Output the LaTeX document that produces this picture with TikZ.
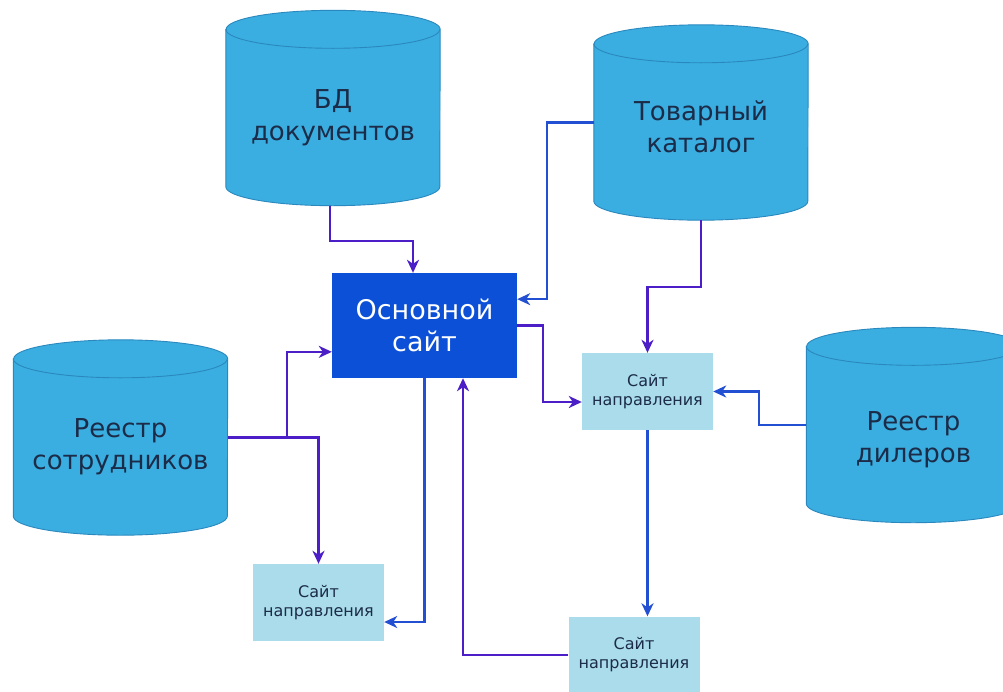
\documentclass[tikz,border=0pt]{standalone}
\usepackage{fontspec}
\setmainfont{DejaVu Sans}
\usetikzlibrary{arrows.meta,calc}

\definecolor{DbBlue}{HTML}{3AAEE0}
\definecolor{DbEdge}{HTML}{2A88BE}
\definecolor{SiteBlue}{HTML}{0C50D8}
\definecolor{DirBlue}{HTML}{AADCEB}
\definecolor{Ink}{HTML}{1B2B48}
\definecolor{LinkPurple}{HTML}{4B1EC8}
\definecolor{LinkBlue}{HTML}{2350D2}

% cylinder drawn round an empty node (rx = 107, ry = 19)
\newcommand{\dbcyl}[1]{%
  \filldraw[DbEdge, fill=DbBlue, line width=0.9pt]
    ($(#1.north west)+(0,19)$) -- ($(#1.south west)+(0,-19)$)
    arc[start angle=180, end angle=0, x radius=107, y radius=19]
    -- ($(#1.north east)+(0,19)$)
    arc[start angle=0, end angle=-180, x radius=107, y radius=19] -- cycle;
  \draw[DbEdge, line width=0.9pt] ($(#1.north west)+(0,19)$)
    arc[start angle=180, end angle=0, x radius=107, y radius=19];
}

\tikzset{
  dbase/.style={minimum width=214pt, minimum height=195pt, inner sep=0pt},
  dbtext/.style={text=Ink, align=center, font=\fontsize{26}{32}\selectfont},
  mainsite/.style={fill=SiteBlue, text=white, align=center, minimum width=185pt,
    minimum height=105pt, inner sep=0pt, font=\fontsize{27}{32}\selectfont},
  dirsite/.style={fill=DirBlue, text=Ink, align=center, minimum width=131pt,
    minimum height=77pt, inner sep=0pt, font=\fontsize{16}{19}\selectfont},
  purplink/.style={LinkPurple, line width=2.2pt, -{Stealth[length=13pt, width=12pt, inset=4pt]}},
  bluelink/.style={LinkBlue, line width=2.2pt, -{Stealth[length=13pt, width=12pt, inset=4pt]}}
}

\begin{document}
\begin{tikzpicture}[x=1pt,y=1pt,yscale=-1,xscale=1]
		\useasboundingbox (0,0) rectangle (1003,691);

		% Databases (cylinders)
		\node[dbase] (bd) at (333,108) {};
		\dbcyl{bd}
		\node[dbtext] (bd-txt) at ($(bd)+(0,10)$) {БД\\документов};

		\node[dbase] (cat) at (701,122.5) {};
		\dbcyl{cat}
		\node[dbtext] (cat-txt) at ($(cat)+(0,4)$) {Товарный\\каталог};

		\node[dbase] (emp) at (120.5,437.5) {};
		\dbcyl{emp}
		\node[dbtext] (emp-txt) at ($(emp)+(0,9)$) {Реестр\\сотрудников};

		\node[dbase] (dlr) at (913.5,425) {};
		\dbcyl{dlr}
		\node[dbtext] (dlr-txt) at ($(dlr)+(0,15)$) {Реестр\\дилеров};

		% Main site
		\node[mainsite] (main) at (424.5,325.5) {Основной\\сайт};

		% Direction sites
		\node[dirsite] (dirA) at (647.5,391.5) {Сайт\\направления};
		\node[dirsite] (dirB) at (318.5,602.5) {Сайт\\направления};
		\node[dirsite] (dirC) at (634,655) {Сайт\\направления};

		% Links into the main site
		\draw[purplink] ([xshift=-3pt]bd.south) -- ++(0,35) -| ([xshift=-11.5pt]main.north);
		\draw[bluelink] (cat.west) -- ++(-47,0) |- ($(main.north east)!.25!(main.south east)$);
		\coordinate (split) at ($(emp.east)+(59,0)$);
		\draw[purplink] (emp.east) -- (split) |- ($(main.north west)!.75!(main.south west)$);
		\draw[purplink] (dirC.west) -| ($(main.south)+(38.5,0)$);

		% Links into the direction sites
		\draw[purplink] (split) -| (dirB.north);
		\draw[bluelink] (main.south) |- ($(dirB.east)+(0,19.5)$);
		\draw[purplink] (cat.south) -- ++(0,67) -| (dirA.north);
		\draw[purplink] (main.east) -- ++(26,0) |- ($(dirA.west)+(0,10.5)$);
		\draw[bluelink] (dlr.west) -- ++(-47,0) |- (dirA.east);
		\draw[bluelink] (dirA.south) -- (dirA.south |- dirC.north);
	\end{tikzpicture}
\end{document}
